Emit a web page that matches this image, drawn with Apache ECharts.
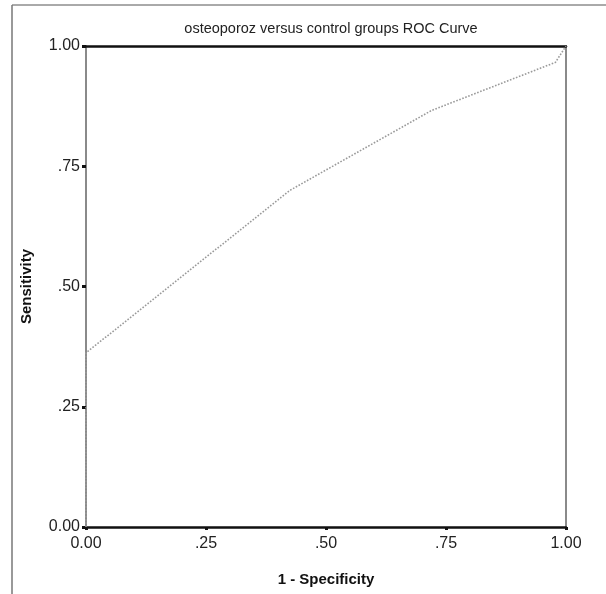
<!DOCTYPE html>
<html>
<head>
<meta charset="utf-8">
<script src="https://cdn.jsdelivr.net/npm/echarts@6/dist/echarts.min.js"></script>
<style>
  html, body { margin: 0; padding: 0; background: #fff; }
  #chart { width: 606px; height: 594px; }
</style>
</head>
<body>
<div id="chart"></div>
<script>
// ROC points: [1 - specificity, sensitivity]
const fpr = [0.00, 0.00, 0.425, 0.72, 0.978, 1.00]
const tpr = [0.00, 0.362, 0.70, 0.866, 0.966, 1.00]
const tickLabels = ['0.00', '.25', '.50', '.75', '1.00']

const rocPoints = fpr.map((x, i) => [x, tpr[i]])
const fmt = v => tickLabels[Math.round(v / 0.25)]

const chart = echarts.init(document.getElementById('chart'))

const font = 'Liberation Sans, Arial, sans-serif'
const labelFont = { fontFamily: font, fontSize: 16, color: '#222' }

chart.setOption({
    animation: false,
    backgroundColor: '#fff',
    title: {
        text: 'osteoporoz versus control groups ROC Curve',
        left: 326, top: 16, textAlign: 'center',
        textStyle: { fontFamily: font, fontSize: 14.5, fontWeight: 'normal', color: '#222' }
    },
    grid: { left: 86, right: 40, top: 46, bottom: 67 },
    // outer frame (top and left edges only)
    graphic: [
        { type: 'line', shape: { x1: 12, y1: 5, x2: 606, y2: 5 }, style: { stroke: '#555', lineWidth: 1 } },
        { type: 'line', shape: { x1: 12, y1: 5, x2: 12, y2: 594 }, style: { stroke: '#777', lineWidth: 1.5 } }
    ],
    xAxis: [{
        type: 'value', min: 0, max: 1, interval: 0.25, position: 'bottom',
        name: '1 - Specificity', nameLocation: 'middle', nameGap: 45,
        nameTextStyle: { fontFamily: font, fontSize: 15, fontWeight: 'bold', color: '#111' },
        axisLine: { onZero: false, lineStyle: { color: '#111', width: 2.5 } },
        axisTick: { length: 3, lineStyle: { color: '#111', width: 3 } },
        axisLabel: Object.assign({ margin: 9, formatter: fmt }, labelFont),
        splitLine: { show: false }
    }, {
        type: 'value', min: 0, max: 1, position: 'top',
        axisLine: { show: true, onZero: false, lineStyle: { color: '#111', width: 2.5 } },
        axisTick: { show: false }, axisLabel: { show: false }, splitLine: { show: false }
    }],
    yAxis: [{
        type: 'value', min: 0, max: 1, interval: 0.25, position: 'left',
        name: 'Sensitivity', nameLocation: 'middle', nameGap: 52, nameRotate: 90,
        nameTextStyle: { fontFamily: font, fontSize: 15, fontWeight: 'bold', color: '#111' },
        axisLine: { show: true, onZero: false, lineStyle: { color: '#8a8a8a', width: 2 } },
        axisTick: { length: 4, lineStyle: { color: '#111', width: 3 } },
        axisLabel: Object.assign({ margin: 6, formatter: fmt }, labelFont),
        splitLine: { show: false }
    }, {
        type: 'value', min: 0, max: 1, position: 'right',
        axisLine: { show: true, onZero: false, lineStyle: { color: '#8a8a8a', width: 2 } },
        axisTick: { show: false }, axisLabel: { show: false }, splitLine: { show: false }
    }],
    series: [{
        type: 'line',
        data: rocPoints,
        showSymbol: false,
        z: 1,
        lineStyle: { color: '#9a9a9a', width: 1.6, type: 'dotted' }
    }]
})
</script>
</body>
</html>
